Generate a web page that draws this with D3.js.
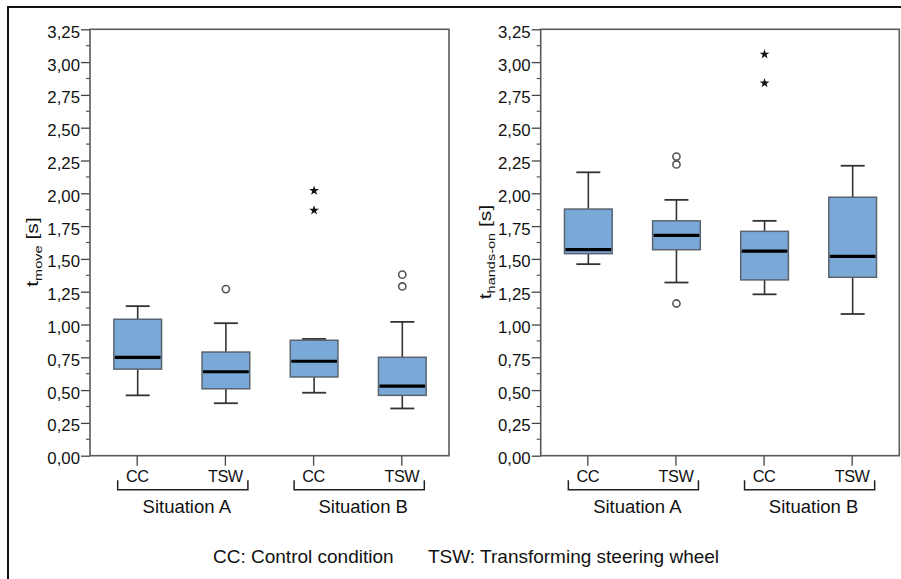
<!DOCTYPE html>
<html>
<head>
<meta charset="utf-8">
<script src="https://cdn.jsdelivr.net/npm/d3@7"></script>
<style>
  html, body { margin: 0; padding: 0; background: #fff; }
  svg { display: block; font-family: "Liberation Sans", Arial, sans-serif; }
</style>
</head>
<body>
<svg id="chart" width="901" height="579"></svg>
<script>
// ---------- data ----------
const categories = ["CC", "TSW", "CC", "TSW"];
const situations = ["Situation A", "Situation B"];
const tickValues = [0, 0.25, 0.5, 0.75, 1.0, 1.25, 1.5, 1.75, 2.0, 2.25, 2.5, 2.75, 3.0, 3.25];
const legendItems = ["CC: Control condition", "TSW: Transforming steering wheel"];

// t_move panel
const moveMin = [0.46, 0.40, 0.48, 0.36];
const moveQ1 = [0.66, 0.51, 0.60, 0.46];
const moveMed = [0.75, 0.64, 0.72, 0.53];
const moveQ3 = [1.04, 0.79, 0.88, 0.75];
const moveMax = [1.14, 1.01, 0.89, 1.02];
const moveOutliers = [[], [1.27], [], [1.29, 1.38]];
const moveExtremes = [[], [], [1.87, 2.02], []];

// t_hands-on panel
const handsMin = [1.46, 1.32, 1.23, 1.08];
const handsQ1 = [1.54, 1.57, 1.34, 1.36];
const handsMed = [1.57, 1.68, 1.56, 1.52];
const handsQ3 = [1.88, 1.79, 1.71, 1.97];
const handsMax = [2.16, 1.95, 1.79, 2.21];
const handsOutliers = [[], [1.16, 2.22, 2.28], [], []];
const handsExtremes = [[], [], [2.84, 3.06], []];

// ---------- drawing ----------
const svg = d3.select("#chart");
const fmt = v => d3.format(".2f")(v).replace(".", ",");

// outer border
svg.append("rect")
  .attr("x", 8).attr("y", 7).attr("width", 900).attr("height", 600)
  .attr("fill", "none").attr("stroke", "#111").attr("stroke-width", 2);

function panel(opts) {
  const { x0, x1, y0, y1, mins, q1s, meds, q3s, maxs, outs, extr, sub, titleX } = opts;
  const g = svg.append("g");
  const y = d3.scaleLinear().domain([0, 3.25]).range([y1, y0]);
  const x = d3.scalePoint().domain(d3.range(categories.length)).range([x0, x1]).padding(0.535);

  // minor ticks
  const minor = d3.range(0.125, 3.25, 0.25);
  g.append("g").attr("transform", `translate(${x0},0)`)
    .selectAll("line").data(minor).join("line")
    .attr("x1", -4).attr("x2", 0)
    .attr("y1", d => y(d)).attr("y2", d => y(d))
    .attr("stroke", "#555").attr("stroke-width", 1.2);

  // major ticks + labels
  const ax = g.append("g").attr("transform", `translate(${x0},0)`)
    .call(d3.axisLeft(y).tickValues(tickValues).tickFormat(fmt).tickSize(9).tickPadding(1));
  ax.select(".domain").remove();
  ax.selectAll(".tick line").attr("stroke", "#444").attr("stroke-width", 1.3);
  ax.selectAll(".tick text").attr("fill", "#111").attr("font-size", 16.8)
    .attr("font-family", "Liberation Sans, Arial, sans-serif").attr("dy", "0.47em");

  // x ticks + category labels
  const xg = g.append("g").attr("transform", `translate(0,${y1})`);
  categories.forEach((c, i) => {
    xg.append("line").attr("x1", x(i)).attr("x2", x(i)).attr("y1", 0).attr("y2", 10)
      .attr("stroke", "#444").attr("stroke-width", 1.3);
    xg.append("text").attr("x", x(i)).attr("y", 26).attr("text-anchor", "middle")
      .attr("font-size", 16.3).attr("letter-spacing", -0.5).attr("fill", "#111").text(c);
  });

  // brackets + situation labels
  situations.forEach((s, k) => {
    const a = x(2 * k) - 19.5, b = x(2 * k + 1) + 22.5;
    xg.append("path")
      .attr("d", `M${a},${24.5}V${34}H${b}V${24.5}`)
      .attr("fill", "none").attr("stroke", "#222").attr("stroke-width", 1.5);
    xg.append("text").attr("x", (a + b) / 2 + 4).attr("y", 57.5).attr("text-anchor", "middle")
      .attr("font-size", 18.5).attr("fill", "#111").text(s);
  });

  // boxes
  const bw = 47.7, cw = 24;
  categories.forEach((c, i) => {
    const cx = x(i) + 0.5;
    g.append("line").attr("x1", cx).attr("x2", cx).attr("y1", y(q3s[i])).attr("y2", y(maxs[i]))
      .attr("stroke", "#333").attr("stroke-width", 1.6);
    g.append("line").attr("x1", cx).attr("x2", cx).attr("y1", y(q1s[i])).attr("y2", y(mins[i]))
      .attr("stroke", "#333").attr("stroke-width", 1.6);
    g.append("line").attr("x1", cx - cw / 2).attr("x2", cx + cw / 2).attr("y1", y(maxs[i])).attr("y2", y(maxs[i]))
      .attr("stroke", "#333").attr("stroke-width", 1.8);
    g.append("line").attr("x1", cx - cw / 2).attr("x2", cx + cw / 2).attr("y1", y(mins[i])).attr("y2", y(mins[i]))
      .attr("stroke", "#333").attr("stroke-width", 1.8);
    g.append("rect").attr("x", cx - bw / 2).attr("width", bw)
      .attr("y", y(q3s[i])).attr("height", y(q1s[i]) - y(q3s[i]))
      .attr("fill", "#7aa9d8").attr("stroke", "#5a6470").attr("stroke-width", 1.5);
    g.append("line").attr("x1", cx - bw / 2 + 1).attr("x2", cx + bw / 2 - 1)
      .attr("y1", y(meds[i])).attr("y2", y(meds[i]))
      .attr("stroke", "#000").attr("stroke-width", 3.2);
    g.selectAll(null).data(outs[i]).join("circle")
      .attr("cx", cx).attr("cy", d => y(d)).attr("r", 3.6)
      .attr("fill", "#fff").attr("stroke", "#555").attr("stroke-width", 1.6);
    g.selectAll(null).data(extr[i]).join("path")
      .attr("transform", d => `translate(${cx},${y(d)})`)
      .attr("d", d3.symbol().type(d3.symbolStar).size(30))
      .attr("fill", "#111");
  });

  // frame
  g.append("rect").attr("x", x0).attr("y", y0).attr("width", x1 - x0).attr("height", y1 - y0)
    .attr("fill", "none").attr("stroke", "#5a5a5a").attr("stroke-width", 1.6);

  // y title
  const t = g.append("text")
    .attr("transform", `translate(${titleX},${252}) rotate(-90) scale(1.32,1)`)
    .attr("text-anchor", "middle").attr("font-size", 16).attr("fill", "#111");
  t.append("tspan").text("t");
  t.append("tspan").attr("font-size", 11).attr("dy", 4).text(sub);
  t.append("tspan").attr("dy", -4).text(" [s]");
}

panel({ x0: 90, x1: 449, y0: 29.3, y1: 455.7,
  mins: moveMin, q1s: moveQ1, meds: moveMed, q3s: moveQ3, maxs: moveMax,
  outs: moveOutliers, extr: moveExtremes, sub: "move", titleX: 38 });
panel({ x0: 540.7, x1: 899.3, y0: 29.3, y1: 455.7,
  mins: handsMin, q1s: handsQ1, meds: handsMed, q3s: handsQ3, maxs: handsMax,
  outs: handsOutliers, extr: handsExtremes, sub: "hands-on", titleX: 491 });

// legend
svg.append("text").attr("x", 213).attr("y", 563).attr("font-size", 19)
  .attr("fill", "#111").text(legendItems[0]);
svg.append("text").attr("x", 428).attr("y", 563).attr("font-size", 19)
  .attr("fill", "#111").text(legendItems[1]);
</script>
</body>
</html>
